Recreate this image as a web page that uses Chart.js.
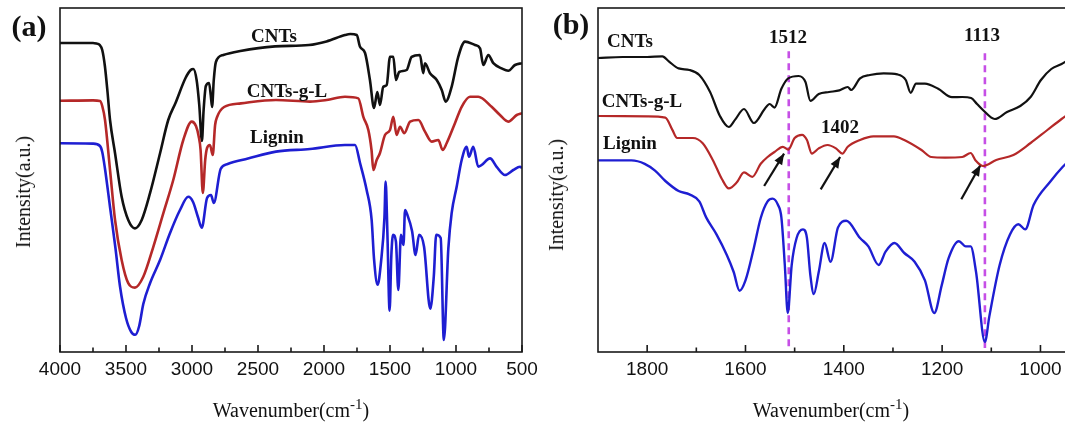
<!DOCTYPE html>
<html>
<head>
<meta charset="utf-8">
<script src="https://cdn.jsdelivr.net/npm/chart.js@4.4.0/dist/chart.umd.min.js"></script>
<style>
  html, body { margin: 0; padding: 0; background: #fff; }
  body { width: 1065px; height: 428px; position: relative; overflow: hidden; }
  canvas { position: absolute; top: 0; }
  #chartA { left: 0; }
  #chartB { left: 530px; }
  .lbl { position: absolute; transform: translate(-50%, -50%); font-family: "Liberation Serif", "Times New Roman", serif;
         font-weight: bold; white-space: nowrap; color: #111; line-height: 1; font-size: 19px; }
  .panel { font-size: 30px; }
  .ytitle { position: absolute; transform: translate(-50%, -50%) rotate(-90deg); font-family: "Liberation Serif", serif;
            font-size: 20px; white-space: nowrap; line-height: 1; color: #111; }
  .xtitle { position: absolute; transform: translate(-50%, -50%); font-family: "Liberation Serif", serif;
            font-size: 20px; white-space: nowrap; line-height: 1; color: #111; }
  .xtitle span { font-size: 15px; position: relative; top: -8px; }
</style>
</head>
<body>
<canvas id="chartA" width="545" height="428"></canvas>
<canvas id="chartB" width="545" height="428"></canvas>

<div class="lbl panel" style="left:29px; top:26px;">(a)</div>
<div class="lbl" style="left:274px; top:35px;">CNTs</div>
<div class="lbl" style="left:287px; top:90px;">CNTs-g-L</div>
<div class="lbl" style="left:277px; top:136px;">Lignin</div>
<div class="ytitle" style="left:23px; top:192px;">Intensity(a.u.)</div>
<div class="xtitle" style="left:291px; top:410px;">Wavenumber(cm<span>-1</span>)</div>

<div class="lbl panel" style="left:571px; top:24px;">(b)</div>
<div class="lbl" style="left:630px; top:40px;">CNTs</div>
<div class="lbl" style="left:642px; top:100px;">CNTs-g-L</div>
<div class="lbl" style="left:630px; top:142px;">Lignin</div>
<div class="lbl" style="left:788px; top:36px;">1512</div>
<div class="lbl" style="left:982px; top:34px;">1113</div>
<div class="lbl" style="left:840px; top:126px;">1402</div>
<div class="ytitle" style="left:556px; top:195px;">Intensity(a.u.)</div>
<div class="xtitle" style="left:831px; top:410px;">Wavenumber(cm<span>-1</span>)</div>

<script>
/* DATA - panel (a), full range */
const wnA_cnts = [4000,3750,3724,3700,3680,3660,3640,3621,3583,3533,3483,3432,3381,3318,3242,3180,3125,3049,3010,2990,2965,2945,2925,2912,2895,2871,2858,2848,2835,2819,2763,2634,2371,2114,1981,1841,1800,1752,1727,1689,1652,1621,1596,1576,1551,1525,1500,1475,1455,1430,1374,1336,1273,1248,1235,1197,1146,1108,1078,1033,983,932,856,818,793,755,717,654,604,553,500];
const inA_cnts = [77.25,77.25,77.1,76.8,75.5,71.5,65,58,49.7,38.8,33,30.9,33,39.7,49.7,58,62.25,68.5,70.5,70.75,68,61.75,52.75,60.5,66.5,67.25,64.25,61.25,68,72.5,74.25,75.25,76.4,76.75,77.65,79.25,79.5,79.25,76.3,74.75,68,61,65,61.75,66.3,66.75,73.8,73.8,68,70,70.5,73.8,74.25,69.7,72.2,69.7,68,65.5,62.6,66.3,73.8,77.6,76.75,75.9,71.75,74.25,72.2,70.9,70.3,71.75,72.2];

const wnA_cntsgl = [4000,3750,3697,3680,3659,3621,3583,3533,3483,3432,3369,3293,3217,3142,3066,3002,2970,2950,2935,2918,2900,2886,2864,2843,2825,2810,2757,2629,2364,2106,1980,1841,1740,1702,1664,1640,1626,1601,1576,1538,1500,1475,1450,1424,1392,1348,1285,1235,1184,1134,1101,1071,1008,957,894,831,730,667,604,540,500];
const inA_cntsgl = [62.8,62.9,62.75,61.5,58,45.5,33,23,17.2,16.1,18.8,26.3,34.7,43,53,57.6,56.5,54,50.5,39.75,48,51,51.75,49.25,56.75,58.75,61.25,62.15,63,62.6,63,63.8,63.4,58.8,55.5,50.5,45.5,48,49.75,54.25,55.5,58.8,54.25,56.3,54.7,57.6,58,55.1,52.6,53,50.5,52.2,57.2,61.3,63.8,63.8,61.3,59.25,57.6,59.25,59.7];

const wnA_lig = [4000,3750,3697,3680,3660,3620,3580,3545,3500,3460,3430,3400,3369,3318,3242,3167,3091,3028,2992,2955,2926,2886,2856,2835,2783,2730,2576,2364,2106,1842,1765,1727,1677,1639,1621,1594,1568,1542,1533,1520,1503,1490,1477,1455,1437,1417,1398,1386,1371,1333,1306,1280,1242,1195,1168,1150,1116,1092,1058,1033,995,957,919,902,869,831,806,742,692,629,566,515,500];
const inA_lig = [52.2,52.1,51.5,50,46,36,26,16.3,8.5,5,4.3,6.5,12,17.2,23,29.7,35.5,38.8,37.5,33.75,31.05,38.5,39.25,37.25,45.75,47,48.35,50.1,50.75,51.75,51.75,47.25,40.5,33,23.3,16.8,22.5,33.65,42.6,30,10.35,24,29.3,27.6,15.5,29.3,26.75,35.5,34.5,30.25,24.25,29.3,26.3,10.8,19,29.3,28.5,3,25.9,34.7,41.3,48,51.3,48.8,51.3,46.3,46.75,48.4,46.3,44.25,45.5,46.3,46];

const ticksA = [4000,3500,3000,2500,2000,1500,1000,500];
const minorA = [3750,3250,2750,2250,1750,1250,750];

/* DATA - panel (b), fingerprint region */
const wnB_cnts = [1900,1850,1800,1769,1756,1736,1714,1694,1672,1652,1634,1621,1603,1583,1561,1551,1541,1527,1513,1492,1478,1468,1451,1430,1409,1392,1385,1367,1347,1319,1291,1274,1264,1253,1235,1208,1180,1159,1141,1129,1117,1093,1068,1041,1020,999,978,957,946];
const inB_cnts = [73.5,73.75,73.75,73.9,72.65,70.9,70.5,69.25,65,59,56.25,58.1,60.75,57.25,60.75,62,61.1,65.8,68.4,69,67.5,62.8,64.5,65,65.4,66.25,65.5,68.4,69.25,69.65,69.4,68,64.8,67.1,67.1,65.8,63.7,63.75,63.5,62,60.5,58.25,60,61.5,63.75,68,70.75,72,72.8];

const wnB_cntsgl = [1900,1800,1763,1749,1739,1707,1687,1666,1648,1634,1618,1603,1586,1569,1555,1541,1524,1513,1500,1485,1475,1465,1451,1433,1416,1403,1392,1367,1340,1298,1277,1242,1222,1194,1159,1142,1132,1117,1090,1055,1020,986,957,946];
const inB_cntsgl = [59,58.9,58.6,55.6,53.5,53.5,52.2,47.9,43.25,40.9,42.35,44.9,43.8,47.05,48.75,50,51.3,50.6,53.5,54.3,53,49.6,50.9,51.75,50.9,49.6,51.3,53,53.9,53.9,53,50.5,48.75,48.6,48.75,49.75,47.9,46.5,48,49.25,52.25,55.5,58.25,59.2];

const wnB_lig = [1900,1832,1805,1784,1763,1736,1714,1694,1680,1659,1638,1624,1612,1600,1583,1569,1555,1545,1534,1527,1520,1514,1506,1496,1483,1475,1468,1461,1451,1439,1427,1412,1395,1367,1350,1329,1315,1297,1277,1256,1235,1216,1201,1187,1166,1152,1142,1131,1113,1104,1083,1062,1045,1031,1014,979,955,946];
const inB_lig = [47.9,47.9,47.05,45.35,42.75,40.25,39.4,37.65,33.65,29.4,24.25,20,15.3,17.9,26,33.5,37.65,38.35,36.8,33.65,21.75,9.75,21.75,28.5,30.65,28.5,19.15,14.5,20,27.25,22.55,31.1,32.8,28.5,26.4,21.75,25.1,27.25,24.75,22.55,17.9,9.75,16.6,23.4,27.7,26.4,26.4,20,2.5,8.9,21.75,29.4,31.95,30.65,36.75,42.75,46.25,47.3];

const ticksB = [1800,1600,1400,1200,1000];
const minorB = [1700,1500,1300,1100];

// marked bands (dashed guides) and arrows in panel (b)
const bandWn = [1512, 1113];
const bandTop = [75.2, 74.7];
const arrowFromWn = [1562, 1447, 1161];
const arrowFromI = [41.5, 40.65, 38.2];
const arrowToWn = [1521.5, 1407.5, 1122];
const arrowToI = [49.6, 48.75, 46.75];

/* HELPERS */
const BLACK = '#111111', RED = '#b52828', BLUE = '#1e1ed2', VIOLET = '#c64fe6';

function pts(xs, ys) {
    return xs.map((x, i) => ({x: x, y: ys[i]}));
}

function curve(xs, ys, color, width) {
    return {
        data: pts(xs, ys),
        borderColor: color,
        borderWidth: width,
        pointRadius: 0,
        cubicInterpolationMode: 'monotone',
        fill: false
    };
}

// frame box + inward ticks
const framePlugin = {
    id: 'frame',
    afterDatasetsDraw(chart, args, opts) {
        const ctx = chart.ctx, a = chart.chartArea, x = chart.scales.x;
        ctx.save();
        ctx.strokeStyle = '#1a1a1a';
        ctx.lineWidth = 1.6;
        ctx.strokeRect(a.left, a.top, a.right - a.left, a.bottom - a.top);
        ctx.beginPath();
        opts.major.forEach(v => {
            const px = x.getPixelForValue(v);
            ctx.moveTo(px, a.bottom); ctx.lineTo(px, a.bottom - 7);
        });
        opts.minor.forEach(v => {
            const px = x.getPixelForValue(v);
            ctx.moveTo(px, a.bottom); ctx.lineTo(px, a.bottom - 4.5);
        });
        ctx.stroke();
        ctx.restore();
    }
};

// arrow heads on datasets flagged arrow:true
const arrowPlugin = {
    id: 'arrowHeads',
    afterDatasetsDraw(chart) {
        const ctx = chart.ctx;
        chart.data.datasets.forEach((ds, i) => {
            if (!ds.arrow) return;
            const p = chart.getDatasetMeta(i).data;
            const a = p[0], b = p[p.length - 1];
            const ang = Math.atan2(b.y - a.y, b.x - a.x);
            const len = 11, half = 4.5;
            ctx.save();
            ctx.fillStyle = ds.borderColor;
            ctx.beginPath();
            ctx.moveTo(b.x, b.y);
            ctx.lineTo(b.x - len * Math.cos(ang) + half * Math.sin(ang), b.y - len * Math.sin(ang) - half * Math.cos(ang));
            ctx.lineTo(b.x - len * Math.cos(ang) - half * Math.sin(ang), b.y - len * Math.sin(ang) + half * Math.cos(ang));
            ctx.closePath();
            ctx.fill();
            ctx.restore();
        });
    }
};

function makeChart(id, datasets, xMin, xMax, major, minor, padL, padR) {
    return new Chart(document.getElementById(id), {
        type: 'line',
        data: { datasets: datasets },
        plugins: [framePlugin, arrowPlugin],
        options: {
            responsive: false,
            animation: false,
            devicePixelRatio: 1,
            layout: { padding: { left: padL, right: padR, top: 8, bottom: 0 } },
            plugins: {
                legend: { display: false },
                tooltip: { enabled: false },
                frame: { major: major, minor: minor }
            },
            scales: {
                x: {
                    type: 'linear',
                    min: xMin,
                    max: xMax,
                    reverse: true,
                    grid: { display: false, drawTicks: false },
                    border: { display: false },
                    afterBuildTicks: s => { s.ticks = major.map(v => ({value: v})); },
                    afterFit: s => { s.height = 76; },
                    ticks: {
                        color: '#111',
                        font: { family: '"Liberation Sans", Arial, sans-serif', size: 19 },
                        padding: 6,
                        maxRotation: 0,
                        autoSkip: false,
                        callback: v => String(v)
                    }
                },
                y: { display: false, min: 0, max: 86 }
            }
        }
    });
}

/* PANEL (a) */
makeChart('chartA', [
    curve(wnA_lig, inA_lig, BLUE, 2.6),
    curve(wnA_cntsgl, inA_cntsgl, RED, 2.6),
    curve(wnA_cnts, inA_cnts, BLACK, 2.6)
], 500, 4000, ticksA, minorA, 60, 23);

/* PANEL (b) */
const dsB = [
    curve(wnB_lig, inB_lig, BLUE, 2.4),
    curve(wnB_cntsgl, inB_cntsgl, RED, 2.2),
    curve(wnB_cnts, inB_cnts, BLACK, 2.2)
];
bandWn.forEach((w, i) => {
    dsB.push({
        data: [{x: w, y: bandTop[i]}, {x: w, y: 1}],
        borderColor: VIOLET,
        borderWidth: 2.6,
        borderDash: [7, 5],
        pointRadius: 0
    });
});
arrowFromWn.forEach((w, i) => {
    dsB.push({
        data: [{x: w, y: arrowFromI[i]}, {x: arrowToWn[i], y: arrowToI[i]}],
        borderColor: BLACK,
        borderWidth: 2.2,
        pointRadius: 0,
        arrow: true
    });
});
makeChart('chartB', dsB, 946, 1900, ticksB, minorB, 68, 8);
</script>
</body>
</html>
